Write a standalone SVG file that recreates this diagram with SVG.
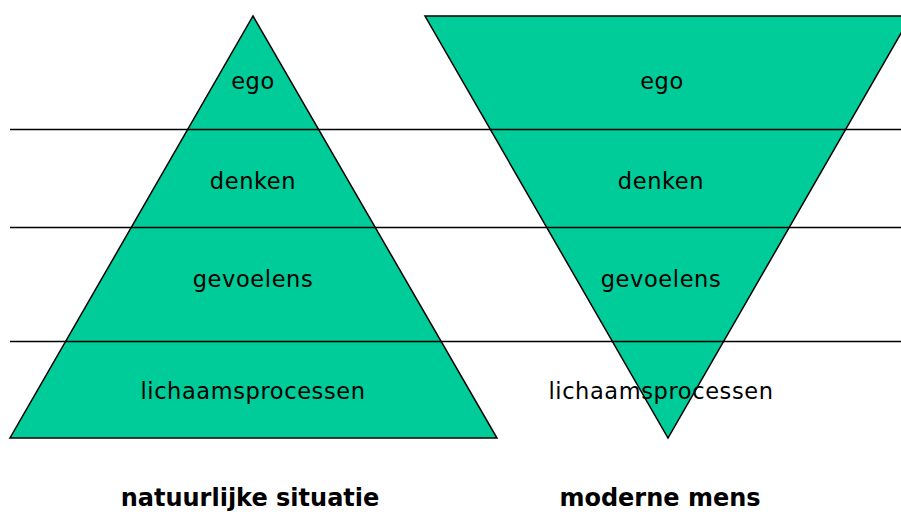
<svg xmlns="http://www.w3.org/2000/svg" width="901" height="512" viewBox="0 0 901 512">
<style>
.tri{fill:#00cc99;stroke:#000;stroke-width:1.5}
.ln{stroke:#000;stroke-width:1.3}
.t{font-family:"DejaVu Sans",Verdana,sans-serif;font-size:22.5px;letter-spacing:0.6px;fill:#000;text-anchor:middle}
.b{font-family:"DejaVu Sans",Verdana,sans-serif;font-size:24px;font-weight:bold;fill:#000;text-anchor:middle}
</style>
<rect width="901" height="512" fill="#fff"/>
<g id="pyramid">
<polygon class="tri" points="253,16 497,438 10,438"/>
</g>
<g id="inverted">
<polygon class="tri" points="425,16 911,16 668,438"/>
</g>
<g id="connectors">
<line class="ln" x1="10" y1="129.5" x2="901" y2="129.5"/>
<line class="ln" x1="10" y1="227.5" x2="901" y2="227.5"/>
<line class="ln" x1="10" y1="341.5" x2="901" y2="341.5"/>
</g>
<g id="left-labels">
<text class="t" x="253" y="89">ego</text>
<text class="t" x="253" y="189">denken</text>
<text class="t" x="253" y="287">gevoelens</text>
<text class="t" x="253" y="399">lichaamsprocessen</text>
</g>
<g id="right-labels">
<text class="t" x="662" y="89">ego</text>
<text class="t" x="661" y="189">denken</text>
<text class="t" x="661" y="287">gevoelens</text>
<text class="t" x="661" y="399">lichaamsprocessen</text>
</g>
<g id="captions">
<text class="b" x="250" y="506">natuurlijke situatie</text>
<text class="b" x="660" y="506">moderne mens</text>
</g>
</svg>
